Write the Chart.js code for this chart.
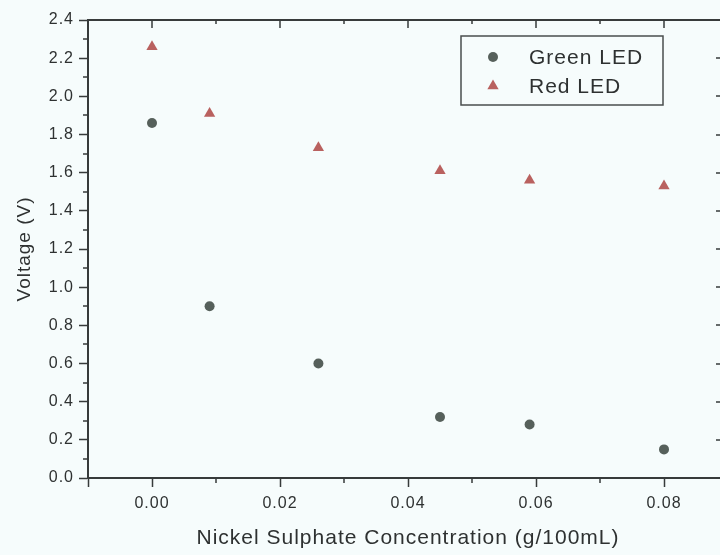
<!DOCTYPE html>
<html>
<head>
<meta charset="utf-8">
<script src="https://cdn.jsdelivr.net/npm/chart.js@4.4.1/dist/chart.umd.min.js"></script>
<style>
  html, body { margin: 0; padding: 0; background: #f6fcfc; overflow: hidden; width: 720px; height: 555px; }
  #wrap { width: 740px; height: 555px; }
</style>
</head>
<body>
<div id="wrap"><canvas id="c" width="740" height="555"></canvas></div>
<script>
// ---- data ----
const concentration = [0, 0.009, 0.026, 0.045, 0.059, 0.08];
const greenVoltage = [1.86, 0.90, 0.60, 0.32, 0.28, 0.15];
const redVoltage = [2.26, 1.91, 1.73, 1.61, 1.56, 1.53];
const seriesNames = ['Green LED', 'Red LED'];
const xTickValues = [-0.01, 0, 0.02, 0.04, 0.06, 0.08];
const xMinorValues = [0.01, 0.03, 0.05, 0.07];
const yTickValues = [0, 0.2, 0.4, 0.6, 0.8, 1.0, 1.2, 1.4, 1.6, 1.8, 2.0, 2.2, 2.4];
const yMinorValues = [0.1, 0.3, 0.5, 0.7, 0.9, 1.1, 1.3, 1.5, 1.7, 1.9, 2.1, 2.3];
const xTitle = 'Nickel Sulphate Concentration (g/100mL)';
const yTitle = 'Voltage (V)';

const AXIS = '#373b3b';
const TEXT = '#2e3131';
const FONT = "'Liberation Sans', Arial, sans-serif";
const GREEN = '#56605b';
const RED = '#b9615f';

function spacing(ctx) { ctx.letterSpacing = '1px'; }

const framePlugin = {
  id: 'frame',
  beforeLayout(chart) { spacing(chart.ctx); },
  beforeDraw(chart) {
    const ctx = chart.ctx;
    spacing(ctx);
    ctx.save();
    ctx.fillStyle = '#f6fcfc';
    ctx.fillRect(0, 0, chart.width, chart.height);
    ctx.restore();
  },
  afterDraw(chart) {
    const ctx = chart.ctx;
    const a = chart.chartArea;
    const xs = chart.scales.x, ys = chart.scales.y;
    ctx.save();
    ctx.strokeStyle = AXIS;
    // top & right frame lines
    ctx.lineWidth = 2;
    ctx.beginPath();
    ctx.moveTo(a.left, a.top); ctx.lineTo(a.right, a.top);
    ctx.moveTo(a.right, a.top); ctx.lineTo(a.right, a.bottom);
    ctx.stroke();
    ctx.lineWidth = 1.5;
    ctx.beginPath();
    // top inward ticks
    xTickValues.concat(xMinorValues).forEach(v => {
      const px = Math.round(xs.getPixelForValue(v));
      const major = xTickValues.includes(v);
      ctx.moveTo(px, a.top); ctx.lineTo(px, a.top + (major ? 8 : 4));
    });
    // bottom minor outward ticks
    xMinorValues.forEach(v => {
      const px = Math.round(xs.getPixelForValue(v));
      ctx.moveTo(px, a.bottom); ctx.lineTo(px, a.bottom + 5);
    });
    // left minor outward ticks
    yMinorValues.forEach(v => {
      const py = Math.round(ys.getPixelForValue(v));
      ctx.moveTo(a.left, py); ctx.lineTo(a.left - 5, py);
    });
    // right inward ticks
    yTickValues.forEach(v => {
      const py = Math.round(ys.getPixelForValue(v));
      ctx.moveTo(a.right, py); ctx.lineTo(a.right - 12, py);
    });
    ctx.stroke();

    // legend box
    const bx = a.left + 373, by = a.top + 16, bw = 202, bh = 69;
    ctx.lineWidth = 1.5;
    ctx.strokeStyle = '#4a4e4e';
    ctx.strokeRect(bx, by, bw, bh);
    chart.data.datasets.forEach((ds, i) => {
      const cy = by + 21 + i * 29;
      ctx.fillStyle = ds.backgroundColor;
      ctx.strokeStyle = ds.backgroundColor;
      Chart.helpers.drawPoint(ctx, {
        pointStyle: ds.pointStyle, radius: ds.pointRadius, rotation: 0, borderWidth: 0
      }, bx + 32, cy);
      ctx.fillStyle = TEXT;
      ctx.font = '21px ' + FONT;
      ctx.textBaseline = 'middle';
      ctx.textAlign = 'left';
      spacing(ctx);
      ctx.fillText(ds.label, bx + 68, cy + 1);
    });
    ctx.restore();
  }
};

const ctx = document.getElementById('c').getContext('2d');
new Chart(ctx, {
  type: 'scatter',
  data: {
    datasets: [
      {
        label: seriesNames[0],
        data: concentration.map((x, i) => ({ x, y: greenVoltage[i] })),
        pointStyle: 'circle', pointRadius: 5, pointHoverRadius: 5,
        backgroundColor: GREEN, borderColor: GREEN, borderWidth: 0
      },
      {
        label: seriesNames[1],
        data: concentration.map((x, i) => ({ x, y: redVoltage[i] })),
        pointStyle: 'triangle', pointRadius: 6.5, pointHoverRadius: 6.5,
        backgroundColor: RED, borderColor: RED, borderWidth: 0
      }
    ]
  },
  options: {
    responsive: false,
    animation: false,
    events: [],
    layout: { padding: { left: 0, top: 20, right: 12, bottom: 2 } },
    plugins: { legend: { display: false }, tooltip: { enabled: false } },
    scales: {
      x: {
        type: 'linear', position: 'bottom', min: -0.01, max: 0.09,
        afterBuildTicks: s => { s.ticks = xTickValues.map(v => ({ value: v })); },
        afterFit: s => { s.height = 75; },
        ticks: {
          autoSkip: false, maxRotation: 0, padding: 7, color: TEXT,
          font: { family: FONT, size: 16 },
          callback: v => (v < -0.001 ? '' : v.toFixed(2))
        },
        grid: { drawOnChartArea: false, drawTicks: true, tickLength: 9, tickColor: AXIS, tickWidth: 1.5 },
        border: { display: true, color: AXIS, width: 2 },
        title: { display: true, text: xTitle, color: TEXT, font: { family: FONT, size: 21 }, padding: { top: 0, bottom: 2 } }
      },
      y: {
        type: 'linear', position: 'left', min: 0, max: 2.4,
        afterBuildTicks: s => { s.ticks = yTickValues.map(v => ({ value: v })); },
        afterFit: s => { s.width = 88; },
        ticks: {
          autoSkip: false, padding: 5, color: TEXT,
          font: { family: FONT, size: 16 },
          callback: v => v.toFixed(1)
        },
        grid: { drawOnChartArea: false, drawTicks: true, tickLength: 9, tickColor: AXIS, tickWidth: 1.5 },
        border: { display: true, color: AXIS, width: 2 },
        title: { display: true, text: yTitle, color: TEXT, font: { family: FONT, size: 19 }, padding: { top: 13, bottom: 0 } }
      }
    }
  },
  plugins: [framePlugin]
});
</script>
</body>
</html>
